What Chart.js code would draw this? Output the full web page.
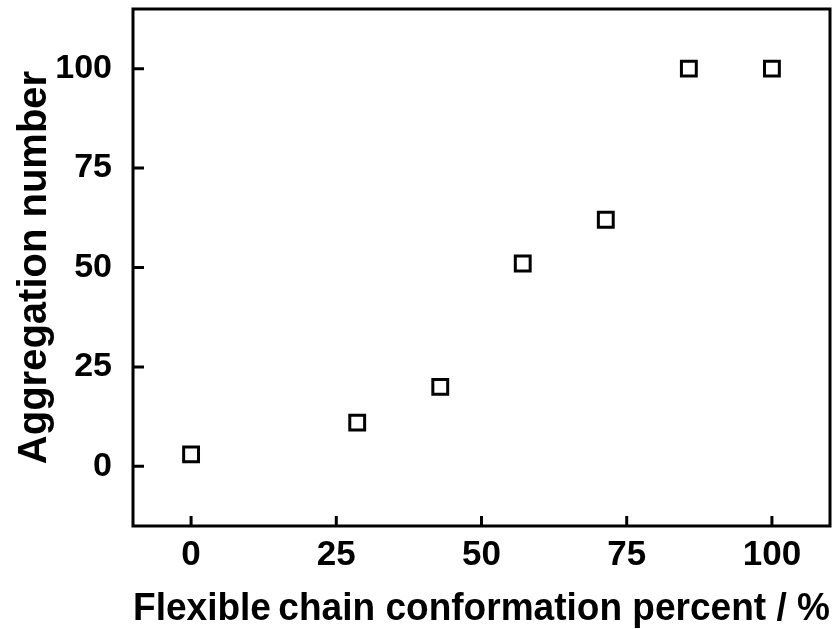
<!DOCTYPE html>
<html>
<head>
<meta charset="utf-8">
<script src="https://cdn.jsdelivr.net/npm/chart.js@4/dist/chart.umd.min.js"></script>
<style>
  html, body { margin: 0; padding: 0; background: #fff; overflow: hidden; }
  #wrap { width: 834px; height: 629px; position: relative; }
  canvas { display: block; }
</style>
</head>
<body>
<div id="wrap"><canvas id="chart"></canvas></div>
<script>
// Data
const conformationPercent = [0, 28.6, 42.9, 57.1, 71.4, 85.7, 100];
const aggregationNumber = [3, 11, 20, 51, 62, 100, 100];
const xTickValues = [0, 25, 50, 75, 100];
const yTickValues = [0, 25, 50, 75, 100];

const FONT = "'Liberation Sans', Arial, Helvetica, sans-serif";

// Frame around the plot area plus short inward ticks
const framePlugin = {
  id: 'frame',
  afterDraw(chart) {
    const { ctx, chartArea: a, scales } = chart;
    ctx.save();
    ctx.strokeStyle = '#000';
    ctx.lineWidth = 3;
    ctx.strokeRect(a.left, a.top, a.right - a.left, a.bottom - a.top);
    ctx.beginPath();
    xTickValues.forEach(v => {
      const px = scales.x.getPixelForValue(v);
      ctx.moveTo(px, a.bottom);
      ctx.lineTo(px, a.bottom - 10);
    });
    yTickValues.forEach(v => {
      const py = scales.y.getPixelForValue(v);
      ctx.moveTo(a.left, py);
      ctx.lineTo(a.left + 11, py);
    });
    ctx.stroke();
    ctx.restore();
  }
};

// no extra room for edge labels, the box is fixed
function noPadding(scale) {
  scale.paddingTop = 0;
  scale.paddingBottom = 0;
  scale.paddingLeft = 0;
  scale.paddingRight = 0;
}

const ctx = document.getElementById('chart').getContext('2d');
new Chart(ctx, {
  type: 'scatter',
  data: {
    datasets: [{
      data: conformationPercent.map((x, i) => ({ x, y: aggregationNumber[i] })),
      pointStyle: 'rect',
      pointRadius: 10.5,
      pointHoverRadius: 10.5,
      pointBorderWidth: 3,
      pointBorderColor: '#000',
      pointBackgroundColor: '#fff'
    }]
  },
  options: {
    responsive: true,
    maintainAspectRatio: false,
    animation: false,
    layout: {
      autoPadding: false,
      padding: { top: 9, right: 4, left: 0, bottom: 0 }
    },
    plugins: {
      legend: { display: false },
      tooltip: { enabled: false }
    },
    scales: {
      x: {
        type: 'linear',
        min: -10,
        max: 110,
        afterBuildTicks(scale) {
          scale.ticks = xTickValues.map(v => ({ value: v }));
        },
        afterFit(scale) {
          scale.height = 103;
          noPadding(scale);
        },
        grid: { display: false },
        border: { display: false },
        ticks: {
          color: '#000',
          padding: 0,
          font: { family: FONT, size: 35, weight: 'bold' }
        },
        title: {
          display: true,
          text: 'Flexible\u2009chain conformation percent / %',
          color: '#000',
          padding: { top: 0, bottom: 0 },
          font: { family: FONT, size: 38, weight: 'bold', lineHeight: 1 }
        }
      },
      y: {
        type: 'linear',
        min: -15,
        max: 115,
        afterBuildTicks(scale) {
          scale.ticks = yTickValues.map(v => ({ value: v }));
        },
        afterFit(scale) {
          scale.width = 133;
          noPadding(scale);
        },
        grid: { display: false },
        border: { display: false },
        ticks: {
          color: '#000',
          padding: 13,
          font: { family: FONT, size: 34, weight: 'bold' }
        },
        title: {
          display: true,
          text: 'Aggregation number',
          color: '#000',
          padding: { top: 15, bottom: 0 },
          font: { family: FONT, size: 40, weight: 'bold', lineHeight: 1 }
        }
      }
    }
  },
  plugins: [framePlugin]
});
</script>
</body>
</html>
